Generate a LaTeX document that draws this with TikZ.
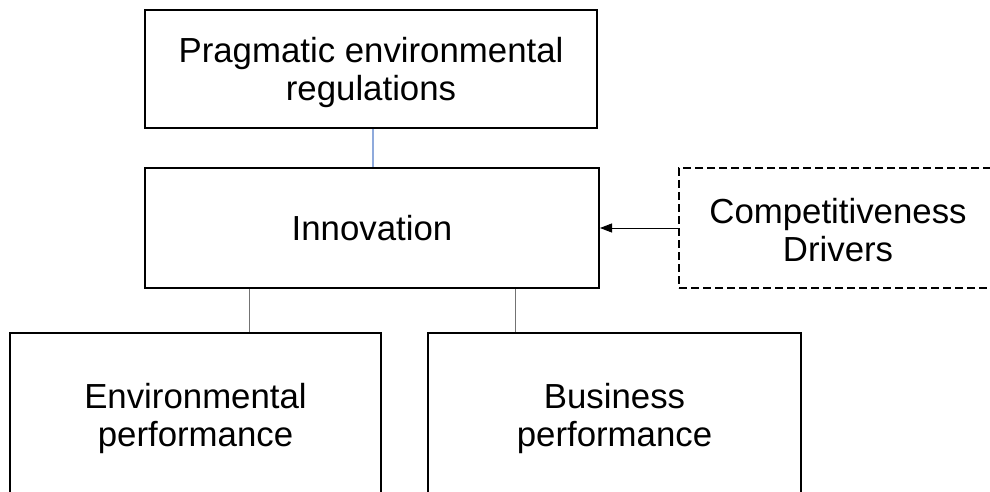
\documentclass[tikz,border=0pt]{standalone}
\usepackage{fontspec}
\setmainfont{Liberation Sans}
\usetikzlibrary{arrows.meta}
\definecolor{linkblue}{RGB}{143,170,220}
\begin{document}
\begin{tikzpicture}[x=1pt,y=-1pt,
  txt/.style={align=center, font=\fontsize{34.8}{38}\selectfont, inner sep=0pt},
  box/.style={draw=black, line width=2pt, inner sep=0pt},
  dbox/.style={draw=black, line width=1.5pt, dash pattern=on 8pt off 4pt, inner sep=0pt},
  link/.style={draw=black!55, line width=1pt},
  bluelink/.style={draw=linkblue, line width=1.8pt},
  arr/.style={draw=black, line width=1pt, -{Triangle[length=12pt,width=9pt]}}]
\useasboundingbox (0,0) rectangle (990,492);
\clip (0,0) rectangle (990,492);
\node[box, minimum width=452pt, minimum height=118pt] (reg) at (371,69) {};
\node[txt, yshift=-4pt] (regt) at (reg.center) {Pragmatic environmental\\regulations};
\node[box, minimum width=454pt, minimum height=120pt] (inn) at (372,228) {};
\node[txt] (innt) at (inn.center) {Innovation};
\node[dbox, minimum width=318pt, minimum height=120pt] (comp) at (838,228) {};
\node[txt, yshift=-2pt] (compt) at (comp.center) {Competitiveness\\Drivers};
\node[box, minimum width=371pt, minimum height=164pt] (env) at (195.5,415) {};
\node[txt, yshift=-3pt] (envt) at (env.center) {Environmental\\performance};
\node[box, minimum width=373pt, minimum height=164pt] (bus) at (614.5,415) {};
\node[txt, yshift=-3pt] (bust) at (bus.center) {Business\\performance};
\draw[bluelink] (reg.south -| 373,0) -- (inn.north -| 373,0);
\draw[link] (inn.south -| 249,0) -- (env.north -| 249,0);
\draw[link] (inn.south -| 515,0) -- (bus.north -| 515,0);
\draw[arr] (comp.west) -- (inn.east);
\end{tikzpicture}
\end{document}
